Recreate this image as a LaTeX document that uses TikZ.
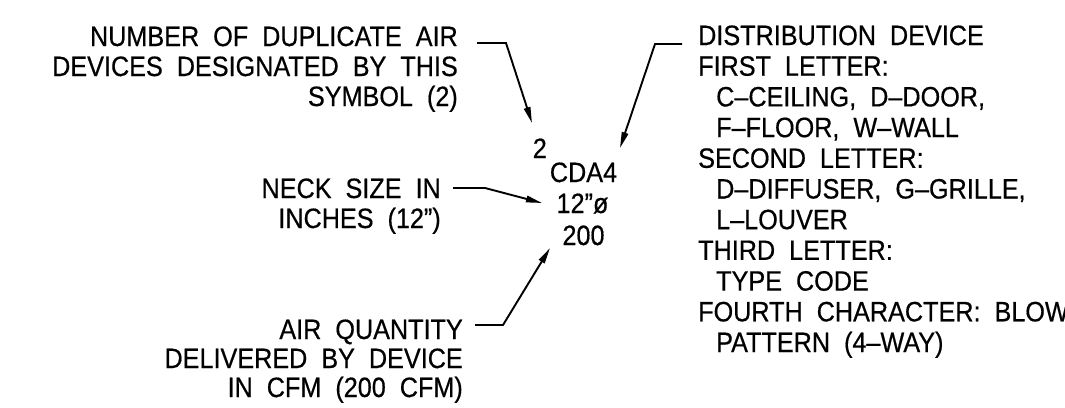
\documentclass[tikz,border=0pt]{standalone}
\usepackage{fontspec}
\setmainfont{Liberation Sans}[FakeStretch=0.9,WordSpace=2,FakeBold=0.5]
\usetikzlibrary{arrows.meta}
\begin{document}
\begin{tikzpicture}[x=1pt,y=-1pt,
  lbl/.style={inner sep=0pt, font=\fontsize{28}{30}\selectfont},
  lr/.style={lbl, anchor=base east},
  ll/.style={lbl, anchor=base west},
  lc/.style={lbl, anchor=base},
  lead/.style={line width=1.9pt, -{Triangle[length=16pt,width=6.5pt]}},
]
\useasboundingbox (0,0) rectangle (1065,407);
% left block 1
\node[lr] (qa) at (458,46) {NUMBER OF DUPLICATE AIR};
\node[lr] (qb) at (458,76) {DEVICES DESIGNATED BY THIS};
\node[lr] (qc) at (458,106) {SYMBOL (2)};
% neck
\node[lr] (na) at (441,198) {NECK SIZE IN};
\node[lr] (nb) at (441,228) {INCHES (12”)};
% air quantity
\node[lr] (aa) at (463,339) {AIR QUANTITY};
\node[lr] (ab) at (463,368) {DELIVERED BY DEVICE};
\node[lr] (ac) at (463,397) {IN CFM (200 CFM)};
% symbol
\node[lbl, anchor=base east] (s2) at (547,158) {2};
\node[lc] (scda) at (583.5,182) {CDA4};
\node[lc] (sdia) at (582.5,213) {12”ø};
\node[lc] (scfm) at (583.5,245) {200};
% right block
\node[ll] (r1) at (698,45) {DISTRIBUTION DEVICE};
\node[ll] (r2) at (698,75.7) {FIRST LETTER:};
\node[ll] (r3) at (716,106.4) {C–CEILING, D–DOOR,};
\node[ll] (r4) at (716,137.1) {F–FLOOR, W–WALL};
\node[ll] (r5) at (698,167.8) {SECOND LETTER:};
\node[ll] (r6) at (716,198.5) {D–DIFFUSER, G–GRILLE,};
\node[ll] (r7) at (716,229.2) {L–LOUVER};
\node[ll] (r8) at (698,259.9) {THIRD LETTER:};
\node[ll] (r9) at (716,290.6) {TYPE CODE};
\node[ll] (r10) at (698,321.3) {FOURTH CHARACTER: BLOW};
\node[ll] (r11) at (716,352) {PATTERN (4–WAY)};
% leader coordinates
\coordinate (q0) at (477,43);
\coordinate (q1) at (506,43);
\coordinate (qt) at (532,123);
\coordinate (d0) at (682,44);
\coordinate (d1) at (655,44);
\coordinate (dt) at (620,148);
\coordinate (n0) at (453,188);
\coordinate (n1) at (485,188);
\coordinate (nt) at (542,203);
\coordinate (a0) at (475,325);
\coordinate (a1) at (503,325);
\coordinate (at) at (550,248);
\draw[lead] (q0) -- (q1) -- (qt);
\draw[lead] (d0) -- (d1) -- (dt);
\draw[lead] (n0) -- (n1) -- (nt);
\draw[lead] (a0) -- (a1) -- (at);
\end{tikzpicture}
\end{document}
